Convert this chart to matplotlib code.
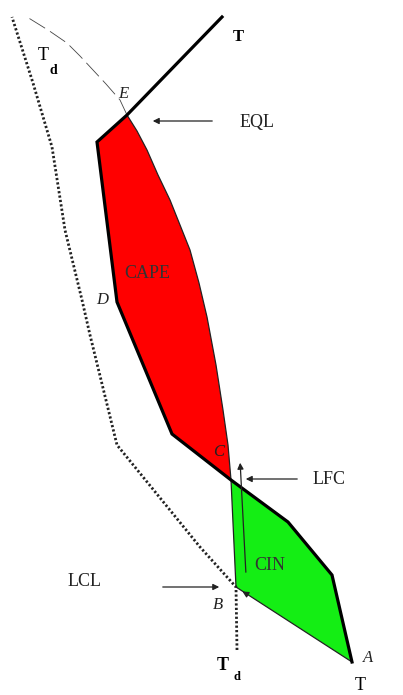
import matplotlib.pyplot as plt

# 环境温度廓线 T（像素坐标，y 向下）
env_x = [352, 332, 288, 231, 172, 117, 97, 127, 222]
env_y = [662, 575, 522, 480, 434, 302, 142, 115, 17]

# 气块路径：A -> B(LCL) -> LFC -> E(EQL) -> 向上
parcel_x = [352, 236, 231, 228, 223, 216, 207, 199, 190, 180, 170, 158, 147, 137, 127,
            120, 106, 93, 80, 67, 48, 27]
parcel_y = [662, 587, 480, 445, 410, 365, 317, 283, 250, 225, 200, 175, 150, 131, 115,
            100, 84, 70, 56, 43, 30, 17]

# 露点廓线 Td
td_x = [237, 236, 200, 117, 90, 82, 65, 52, 33, 12]
td_y = [650, 587, 547, 445, 335, 300, 230, 147, 83, 17]

i_lfc_env, i_e_env = 3, 7
i_b, i_lfc, i_e = 1, 2, 14

fig = plt.figure(figsize=(4.03, 6.95), dpi=100)
ax = fig.add_axes([0, 0, 1, 1])
ax.set_xlim(0, 403)
ax.set_ylim(695, 0)
ax.axis('off')

serif = 'Liberation Serif'

# CIN 区域（绿色）
g_x = env_x[:i_lfc_env + 1] + parcel_x[i_b:i_lfc + 1][::-1]
g_y = env_y[:i_lfc_env + 1] + parcel_y[i_b:i_lfc + 1][::-1]
ax.fill(g_x, g_y, color='#14ee14', lw=0, zorder=1)

# CAPE 区域（红色）
r_x = env_x[i_lfc_env:i_e_env + 1] + parcel_x[i_lfc:i_e + 1][::-1]
r_y = env_y[i_lfc_env:i_e_env + 1] + parcel_y[i_lfc:i_e + 1][::-1]
ax.fill(r_x, r_y, color='#ff0000', lw=0, zorder=1)

# 气块路径
ax.plot(parcel_x[:i_e + 1], parcel_y[:i_e + 1], color='#222222', lw=0.9, zorder=2)
ax.plot(parcel_x[i_e:], parcel_y[i_e:], color='#444444', lw=0.6,
        dashes=(22, 7), zorder=2)

# 露点
ax.plot(td_x, td_y, color='#222222', lw=2.0, linestyle=(0, (0.8, 0.8)), zorder=2)

# 环境温度
ax.plot(env_x, env_y, color='black', lw=2.3, solid_joinstyle='miter', zorder=3)

# 箭头
akw = dict(arrowstyle='-|>', color='#222222', lw=0.9, mutation_scale=9)
ax.annotate('', xy=(150, 121), xytext=(215, 121), arrowprops=akw)
ax.annotate('', xy=(243, 479), xytext=(300, 479), arrowprops=akw)
ax.annotate('', xy=(222, 587), xytext=(160, 587), arrowprops=akw)
ax.annotate('', xy=(240, 460), xytext=(246, 575), arrowprops=akw)
ax.annotate('', xy=(240, 590), xytext=(250, 596), arrowprops=akw)

# 标注
ax.text(240, 123, 'EQL', fontsize=13, family=serif, va='center', color='#222222')
ax.text(313, 479, 'LFC', fontsize=13, family=serif, va='center', color='#222222')
ax.text(68, 581, 'LCL', fontsize=13, family=serif, va='center', color='#222222')
ax.text(147, 273, 'CAPE', fontsize=13, family=serif, ha='center', va='center', color='#333333')
ax.text(270, 565, 'CIN', fontsize=13, family=serif, ha='center', va='center', color='#333333')

ax.text(233, 37, 'T', fontsize=12, family=serif, weight='bold', va='center')
ax.text(38, 56, 'T', fontsize=13, family=serif, va='center')
ax.text(49, 70, 'd', fontsize=10, family=serif, weight='bold', va='center')
ax.text(217, 666, 'T', fontsize=13, family=serif, weight='bold', va='center')
ax.text(234, 677, 'd', fontsize=9, family=serif, weight='bold', va='center')
ax.text(355, 686, 'T', fontsize=13, family=serif, va='center')

for lab, x, y in [('E', 123, 94), ('D', 102, 300), ('C', 219, 452),
                  ('B', 218, 605), ('A', 368, 658)]:
    ax.text(x, y, lab, fontsize=12, family=serif, style='italic',
            ha='center', va='center', color='#222222')

fig.savefig('out.png', dpi=100)
